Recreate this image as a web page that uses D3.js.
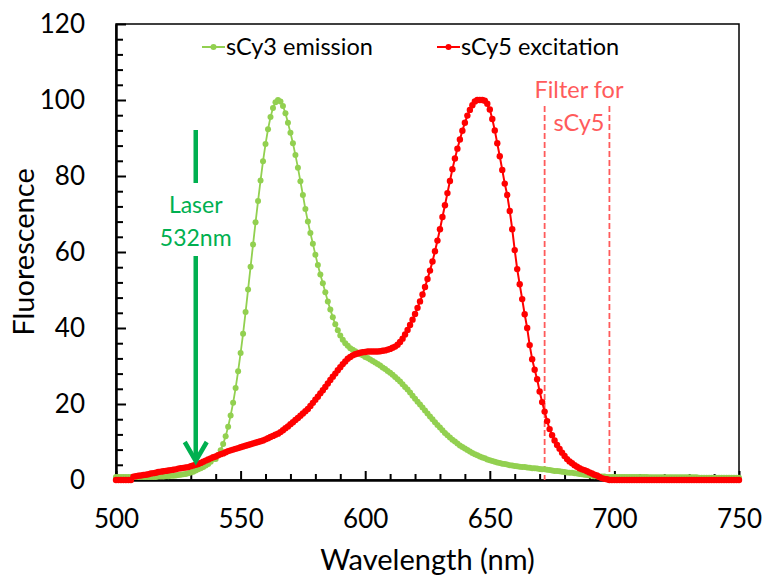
<!DOCTYPE html>
<html><head><meta charset="utf-8">
<script src="https://cdn.jsdelivr.net/npm/d3@7"></script>
<style>body{margin:0;background:#fff}svg{display:block}text{font-family:Lato,"Open Sans",sans-serif}</style>
</head><body><svg id="c" width="766" height="575"></svg>
<script>
const wlStart = 500, wlEnd = 750;
const xTicks = [500, 550, 600, 650, 700, 750];
const yTicks = [0, 20, 40, 60, 80, 100, 120];
const seriesNames = ["sCy3 emission", "sCy5 excitation"];
const filterEdges = [672, 698];
const laserWl = 532;

// sCy3 emission, one value per nm from 500 to 750
const sCy3 = [
0.8,0.8,0.8,0.8,0.8,0.8,0.8,0.8,0.8,0.8, 0.8,0.8,0.8,0.8,0.8,0.8,0.8,0.9,0.9,0.9,
1.0,1.0,1.1,1.1,1.2,1.3,1.4,1.5,1.6,1.8, 2.0,2.2,2.5,2.8,3.1,3.4,3.8,4.2,4.8,5.5,
5.5,6.5,7.8,9.5,11.5,14.0,17.0,20.3,24.2,28.6, 33.4,38.5,44.2,50.1,56.1,62.0,67.8,73.4,78.8,83.9,
88.4,92.3,95.5,97.9,99.4,100,99.6,98.4,96.5,94.0, 91.4,88.6,85.5,82.2,78.6,75.0,71.3,68.0,65.0,62.2,
59.3,56.6,54.1,51.8,49.4,47.0,44.9,42.8,41.0,39.4, 38.0,36.9,36.0,35.3,34.7,34.3,33.9,33.5,33.1,32.8,
32.4,32.1,31.7,31.3,30.9,30.5,30.1,29.6,29.2,28.7, 28.2,27.7,27.1,26.5,25.9,25.2,24.5,23.8,23.0,22.2,
21.4,20.6,19.9,19.1,18.3,17.5,16.7,16.0,15.2,14.5, 13.8,13.1,12.4,11.8,11.2,10.6,10.1,9.6,9.1,8.7,
8.3,7.9,7.5,7.1,6.8,6.5,6.2,5.9,5.7,5.4, 5.2,5.0,4.8,4.6,4.5,4.3,4.2,4.1,3.9,3.8,
3.7,3.6,3.5,3.4,3.4,3.3,3.2,3.1,3.1,3.0, 2.9,2.8,2.8,2.7,2.6,2.5,2.4,2.4,2.3,2.2,
2.1,2.0,1.9,1.9,1.8,1.7,1.6,1.5,1.4,1.3, 1.2,1.1,1.0,1.0,0.9,0.9,0.9,0.8,0.8,0.8,
0.8,0.8,0.8,0.8,0.8,0.8,0.8,0.8,0.8,0.8, 0.8,0.8,0.8,0.8,0.7,0.7,0.7,0.7,0.7,0.7,
0.7,0.7,0.7,0.7,0.7,0.7,0.7,0.7,0.7,0.7, 0.7,0.7,0.7,0.7,0.6,0.6,0.6,0.6,0.6,0.6,
0.6,0.6,0.6,0.6,0.6,0.6,0.6,0.6,0.6,0.6, 0.6
];

// sCy5 excitation, one value per nm from 500 to 750
const sCy5 = [
0,0,0,0,0,0,0,0.9,1.0,1.1, 1.2,1.3,1.4,1.5,1.7,1.8,1.9,2.1,2.2,2.3,
2.4,2.5,2.6,2.7,2.8,3.0,3.1,3.2,3.3,3.4, 3.6,3.8,4.0,4.2,4.5,4.8,5.1,5.4,5.7,6.0,
6.2,6.5,6.8,7.0,7.3,7.6,7.8,8.0,8.2,8.4, 8.6,8.8,9.0,9.2,9.4,9.6,9.8,10.0,10.2,10.4,
10.7,11.0,11.3,11.6,11.9,12.2,12.6,13.1,13.6,14.1, 14.7,15.2,15.8,16.3,16.9,17.5,18.1,18.7,19.5,20.3,
21.1,21.9,22.8,23.6,24.5,25.4,26.3,27.2,28.0,28.9, 29.7,30.5,31.2,31.9,32.4,32.8,33.1,33.3,33.5,33.6,
33.7,33.8,33.8,33.8,33.8,33.8,33.9,34.0,34.1,34.3, 34.5,34.8,35.1,35.6,36.3,37.2,38.3,39.5,40.8,42.2,
43.7,45.3,47.0,48.8,50.8,52.9,55.1,57.5,60.2,63.0, 66.0,69.2,72.3,75.5,78.7,81.8,84.6,87.2,89.6,91.9,
94.0,95.9,97.4,98.6,99.6,100,100,100,99.8,99.0, 97.5,95.0,92.0,88.6,85.2,81.6,78.0,75.0,70.8,66.0,
60.5,55.5,51.5,47.6,43.6,40.0,35.5,31.8,29.0,26.5, 23.3,20.5,18.0,15.5,13.4,11.8,10.4,9.2,8.2,7.2,
6.3,5.5,4.9,4.4,3.9,3.5,3.1,2.8,2.6,2.3, 2.0,1.7,1.4,1.2,0.8,0.5,0.3,0.2,0,0,
0,0,0,0,0,0,0,0,0,0, 0,0,0,0,0,0,0,0,0,0,
0,0,0,0,0,0,0,0,0,0, 0,0,0,0,0,0,0,0,0,0,
0,0,0,0,0,0,0,0,0,0, 0
];

const wavelengths = d3.range(wlStart, wlEnd + 1);
const svg = d3.select("#c");
const L = 116, R = 739, T = 24, B = 480;
const x = d3.scaleLinear().domain([500, 750]).range([L, R]);
const y = d3.scaleLinear().domain([0, 120]).range([B, T]);
const green = "#92d050", red = "#ff0000", dashRed = "#ff5b5b", laserGreen = "#00b050";

// frame
svg.append("rect").attr("x", L).attr("y", T).attr("width", R - L).attr("height", B - T)
  .attr("fill", "none").attr("stroke", "#000").attr("stroke-width", 1.5);

// minor ticks
const xMinor = d3.range(500, 751, 10).filter(v => v % 50 !== 0);
const yMinor = d3.range(0, 121, 4).filter(v => v % 20 !== 0);
svg.append("g").attr("transform", `translate(0,${B})`)
  .call(d3.axisBottom(x).tickValues(xMinor).tickSize(-6).tickFormat(""))
  .call(g => { g.select(".domain").remove(); g.selectAll("line").attr("stroke-width", 2); });
svg.append("g").attr("transform", `translate(${L},0)`)
  .call(d3.axisLeft(y).tickValues(yMinor).tickSize(-7).tickFormat(""))
  .call(g => { g.select(".domain").remove(); g.selectAll("line").attr("stroke-width", 2); });

// major axes
svg.append("g").attr("transform", `translate(0,${B})`)
  .call(d3.axisBottom(x).tickValues(xTicks).tickSize(-9).tickPadding(30).tickSizeOuter(0))
  .call(g => {
    g.select(".domain").attr("stroke-width", 2.5);
    g.selectAll("line").attr("stroke-width", 2);
    g.selectAll("text").attr("font-size", 26).attr("fill", "#000");
  });
svg.append("g").attr("transform", `translate(${L},0)`)
  .call(d3.axisLeft(y).tickValues(yTicks).tickSize(-10).tickPadding(31).tickSizeOuter(0))
  .call(g => {
    g.select(".domain").attr("stroke-width", 2.5);
    g.selectAll("line").attr("stroke-width", 2);
    g.selectAll("text").attr("font-size", 26).attr("fill", "#000");
  });

// axis titles
svg.append("text").attr("x", (L + R) / 2).attr("y", 570).attr("text-anchor", "middle")
  .attr("font-size", 29).text("Wavelength (nm)");
svg.append("text").attr("transform", `translate(34,${(T + B) / 2}) rotate(-90)`)
  .attr("text-anchor", "middle").attr("font-size", 29).text("Fluorescence");

// filter dashed lines
svg.append("g").selectAll("line").data(filterEdges).join("line")
  .attr("x1", d => x(d)).attr("x2", d => x(d)).attr("y1", 106).attr("y2", B)
  .attr("stroke", dashRed).attr("stroke-width", 1.8).attr("stroke-dasharray", "6,3");
svg.append("text").attr("x", 579).attr("y", 98).attr("text-anchor", "middle")
  .attr("font-size", 23.5).attr("fill", dashRed).text("Filter for");
svg.append("text").attr("x", 579).attr("y", 131).attr("text-anchor", "middle")
  .attr("font-size", 23.5).attr("fill", dashRed).text("sCy5");

// series
const line = d3.line().x((d, i) => x(wavelengths[i])).y(d => y(d));
function drawSeries(vals, color, lw, r) {
  const g = svg.append("g");
  g.append("path").datum(vals).attr("d", line).attr("fill", "none")
    .attr("stroke", color).attr("stroke-width", lw);
  g.selectAll("circle").data(vals).join("circle")
    .attr("cx", (d, i) => x(wavelengths[i])).attr("cy", d => y(d)).attr("r", r).attr("fill", color);
}
drawSeries(sCy3, green, 1.8, 3);
drawSeries(sCy5, red, 2, 3.2);

// laser arrow
const lx = x(laserWl);
svg.append("line").attr("x1", lx).attr("x2", lx).attr("y1", 130).attr("y2", 183)
  .attr("stroke", laserGreen).attr("stroke-width", 4.5);
svg.append("line").attr("x1", lx).attr("x2", lx).attr("y1", 256).attr("y2", 461)
  .attr("stroke", laserGreen).attr("stroke-width", 4.5);
svg.append("path").attr("d", `M${lx - 11},${442} L${lx},${461} L${lx + 11},${442}`)
  .attr("fill", "none").attr("stroke", laserGreen).attr("stroke-width", 4.5);
svg.append("text").attr("x", lx).attr("y", 213).attr("text-anchor", "middle")
  .attr("font-size", 23).attr("fill", laserGreen).text("Laser");
svg.append("text").attr("x", lx).attr("y", 246).attr("text-anchor", "middle")
  .attr("font-size", 23).attr("fill", laserGreen).text("532nm");

// legend
const legend = [{name: seriesNames[0], color: green, x0: 202}, {name: seriesNames[1], color: red, x0: 437}];
const lg = svg.append("g").selectAll("g").data(legend).join("g");
lg.append("line").attr("x1", d => d.x0).attr("x2", d => d.x0 + 23).attr("y1", 47).attr("y2", 47)
  .attr("stroke", d => d.color).attr("stroke-width", 2);
lg.append("circle").attr("cx", d => d.x0 + 11.5).attr("cy", 47).attr("r", 3).attr("fill", d => d.color);
lg.append("text").attr("x", d => d.x0 + 24).attr("y", 55).attr("font-size", 23.5).attr("fill", "#000")
  .text(d => d.name);
</script></body></html>
